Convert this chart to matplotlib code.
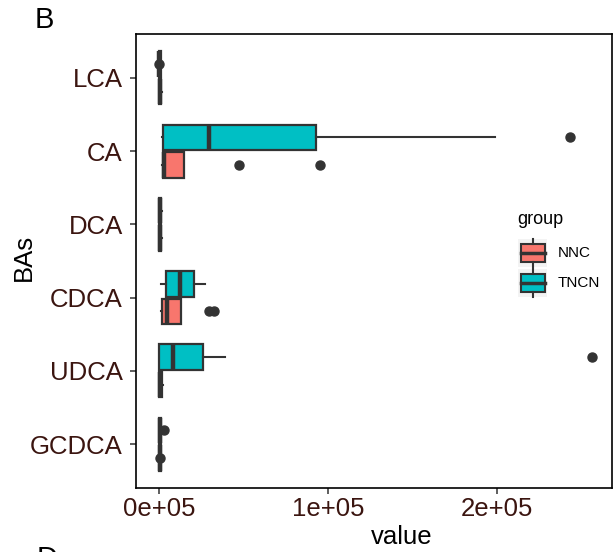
import matplotlib
matplotlib.use('Agg')
import matplotlib.pyplot as plt
from matplotlib.patches import Rectangle
from matplotlib.lines import Line2D

plt.rcParams['font.family'] = ['Liberation Sans', 'DejaVu Sans']

# ---- data -------------------------------------------------------------
bas = ['GCDCA', 'UDCA', 'CDCA', 'DCA', 'CA', 'LCA']   # bottom -> top
groups = ['NNC', 'TNCN']
group_colors = ['#F8766D', '#00BFC4']

nnc_q1 = [0, 0, 1800, 0, 2400, 0]
nnc_med = [400, 500, 4700, 400, 3000, 400]
nnc_q3 = [1300, 1500, 13000, 1200, 14800, 1400]
nnc_lo = [0, 0, 1200, 0, 1800, 0]
nnc_hi = [2000, 2200, 13000, 1800, 14800, 2000]
nnc_fliers = [[600], [], [29600, 32500], [], [47300, 95300], []]

tncn_q1 = [0, 0, 4100, 0, 2400, 0]
tncn_med = [400, 8300, 12400, 400, 29600, 300]
tncn_q3 = [1300, 26000, 20700, 1300, 92900, 1200]
tncn_lo = [0, 0, 1200, 0, 1800, 0]
tncn_hi = [2000, 39000, 27200, 2000, 198800, 2000]
tncn_fliers = [[3000], [256000], [], [], [243000], [300]]

x_ticks = [0, 100000, 200000]
x_ticklabels = ['0e+05', '1e+05', '2e+05']

# ---- figure -----------------------------------------------------------
W, H = 614, 552
fig = plt.figure(figsize=(W / 100, H / 100), dpi=100)
ax = fig.add_axes([136 / W, (H - 488) / H, (612 - 136) / W, (488 - 34) / H])

edge = '#333333'
txtcol = '#3b1510'

def stats(q1, med, q3, lo, hi, fl):
    return [dict(q1=a, med=b, q3=c, whislo=d, whishi=e, fliers=f)
            for a, b, c, d, e, f in zip(q1, med, q3, lo, hi, fl)]

series = {
    'NNC': stats(nnc_q1, nnc_med, nnc_q3, nnc_lo, nnc_hi, nnc_fliers),
    'TNCN': stats(tncn_q1, tncn_med, tncn_q3, tncn_lo, tncn_hi, tncn_fliers),
}
offsets = {'NNC': -0.1875, 'TNCN': 0.1875}

for g, col in zip(groups, group_colors):
    pos = [i + 1 + offsets[g] for i in range(len(bas))]
    ax.bxp(series[g], positions=pos, widths=0.35, orientation='horizontal',
           patch_artist=True, showcaps=False,
           boxprops=dict(facecolor=col, edgecolor=edge, linewidth=1.6),
           medianprops=dict(color=edge, linewidth=3.2, solid_capstyle='butt'),
           whiskerprops=dict(color=edge, linewidth=1.5),
           flierprops=dict(marker='o', markersize=6.5, markerfacecolor=edge,
                           markeredgecolor=edge))

ax.set_xlim(-13600, 268000)
ax.set_ylim(0.4, 6.6)
ax.set_yticks(range(1, len(bas) + 1))
ax.set_yticklabels(bas)
ax.set_xticks(x_ticks)
ax.set_xticklabels(x_ticklabels)
ax.tick_params(axis='both', labelsize=18.5, labelcolor=txtcol, color=edge,
               length=4, width=1.1)
ax.tick_params(axis='y', pad=5.5)
ax.tick_params(axis='x', pad=2.5)
for s in ax.spines.values():
    s.set_linewidth(1.2)
    s.set_color('black')

fig.text(402 / W, 1 - 537 / H, 'value', fontsize=18.5, ha='center', va='center')
fig.text(24 / W, 1 - 257 / H, 'BAs', fontsize=18.5, ha='center', va='center',
         rotation=90)

# panel tags
fig.text(35 / W, 1 - 20 / H, 'B', fontsize=21, ha='left', va='center')
fig.text(37 / W, 1 - 545 / H, 'D', fontsize=21, ha='left', va='top')

# ---- legend (drawn in pixel space) -----------------------------------
lax = fig.add_axes([0, 0, 1, 1], facecolor='none')
lax.set_xlim(0, W)
lax.set_ylim(H, 0)
lax.axis('off')
lax.text(517, 219, 'group', fontsize=13, ha='left', va='center')
for k, (g, col) in enumerate(zip(groups, group_colors)):
    cy = 253 + k * 30
    lax.add_patch(Rectangle((518, cy - 14), 29, 28, facecolor='#EBEBEB',
                            edgecolor='none', alpha=0.6))
    lax.add_patch(Rectangle((521, cy - 9), 24, 18, facecolor=col,
                            edgecolor=edge, linewidth=1.5))
    lax.add_line(Line2D([521, 545], [cy, cy], color=edge, linewidth=2.5))
    lax.add_line(Line2D([533, 533], [cy - 14, cy - 9], color=edge, linewidth=1.5))
    lax.add_line(Line2D([533, 533], [cy + 9, cy + 14], color=edge, linewidth=1.5))
    lax.text(558, cy, g, fontsize=11, ha='left', va='center')

fig.savefig('out.png', dpi=100)
